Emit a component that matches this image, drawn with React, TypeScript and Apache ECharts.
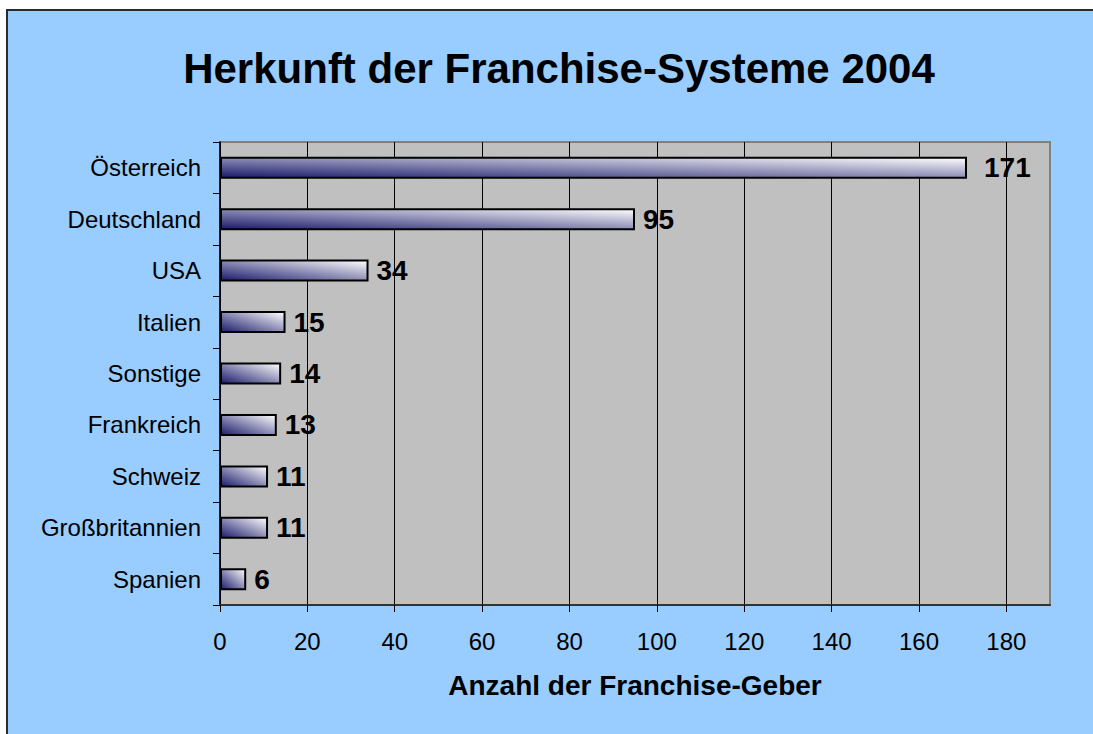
import React, { useEffect, useRef } from "react";
import * as echarts from "echarts";

const categories = [
  "Österreich",
  "Deutschland",
  "USA",
  "Italien",
  "Sonstige",
  "Frankreich",
  "Schweiz",
  "Großbritannien",
  "Spanien",
];
const values = [171, 95, 34, 15, 14, 13, 11, 11, 6];
const xTicks = [0, 20, 40, 60, 80, 100, 120, 140, 160, 180];
const titleText = "Herkunft der Franchise-Systeme 2004";
const xAxisName = "Anzahl der Franchise-Geber";

const FONT = "Liberation Sans, Arial, Helvetica, sans-serif";

export default function App() {
  const ref = useRef<HTMLDivElement>(null);
  useEffect(() => {
    if (!ref.current) return;
    const chart = echarts.init(ref.current, undefined, { renderer: "svg" });
    const gradient = new echarts.graphic.LinearGradient(0, 1, 1, 0, [
      { offset: 0, color: "#1a1a6b" },
      { offset: 1, color: "#ffffff" },
    ]);
    chart.setOption({
      animation: false,
      backgroundColor: "transparent",
      textStyle: { fontFamily: FONT },
      graphic: [
        {
          type: "text",
          x: 559,
          y: 68,
          style: {
            text: titleText,
            fontSize: 42,
            fontWeight: "bold",
            fontFamily: FONT,
            fill: "#000",
            align: "center",
            verticalAlign: "middle",
          },
        },
      ],
      grid: {
        left: 220,
        top: 142,
        right: 43,
        bottom: 129,
        show: true,
        backgroundColor: "#C0C0C0",
        borderColor: "#808080",
        borderWidth: 2,
        containLabel: false,
      },
      xAxis: {
        type: "value",
        min: 0,
        max: 190,
        interval: 20,
        name: xAxisName,
        nameLocation: "middle",
        nameGap: 66,
        nameTextStyle: {
          fontSize: 28,
          fontWeight: "bold",
          color: "#000",
          fontFamily: FONT,
        },
        axisLine: { show: true, lineStyle: { color: "#333", width: 2 } },
        axisTick: {
          show: true,
          length: 7,
          customValues: xTicks,
          lineStyle: { color: "#000", width: 1 },
        },
        axisLabel: {
          fontSize: 24,
          color: "#000",
          margin: 24,
          fontFamily: FONT,
          customValues: xTicks,
        },
        splitLine: { show: true, lineStyle: { color: "#000", width: 1 } },
      },
      yAxis: {
        type: "category",
        inverse: true,
        data: categories,
        axisLine: { show: true, lineStyle: { color: "#000", width: 1.5 } },
        axisTick: { show: true, length: 7, lineStyle: { color: "#000" } },
        axisLabel: {
          fontSize: 24,
          color: "#000",
          margin: 19,
          fontFamily: FONT,
        },
        splitLine: { show: false },
      },
      series: [
        {
          type: "bar",
          barWidth: 22,
          data: values.map((v, i) => ({
            value: v,
            label: i === 0 ? { distance: 17 } : undefined,
          })),
          itemStyle: {
            color: gradient,
            borderColor: "#000",
            borderWidth: 2,
          },
          label: {
            show: true,
            position: "right",
            distance: 8,
            fontSize: 28,
            fontWeight: "bold",
            color: "#000",
            fontFamily: FONT,
          },
        },
      ],
    });
    return () => chart.dispose();
  }, []);
  return (
    <div
      style={{
        position: "absolute",
        left: 0,
        top: 0,
        width: 1093,
        height: 734,
        overflow: "hidden",
        background: "#ffffff",
      }}
    >
      <div
        style={{
          position: "absolute",
          left: 6,
          top: 9,
          width: 1087,
          height: 725,
          boxSizing: "border-box",
          borderLeft: "2px solid #2b2b2b",
          borderTop: "2px solid #2b2b2b",
          background: "#99CCFF",
        }}
      />
      <div
        ref={ref}
        style={{ position: "absolute", left: 0, top: 0, width: 1093, height: 734 }}
      />
    </div>
  );
}
